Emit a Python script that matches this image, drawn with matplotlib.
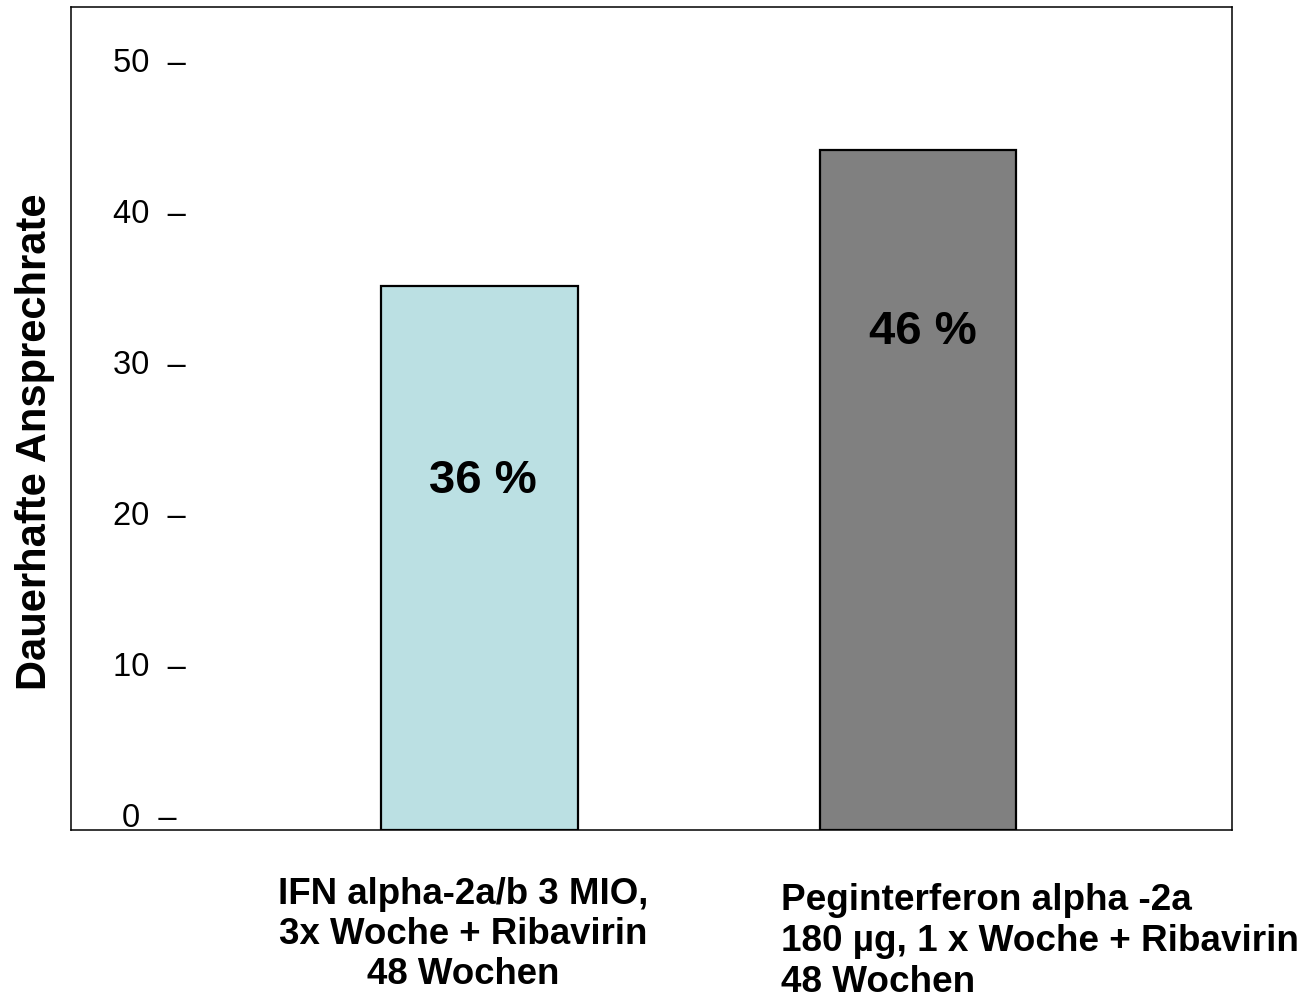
import matplotlib
matplotlib.use("Agg")
import matplotlib.pyplot as plt

plt.rcParams['font.family'] = ['Liberation Sans', 'DejaVu Sans']

# ---- data ----
categories = [
    "IFN alpha-2a/b 3 MIO,\n3x Woche + Ribavirin\n48 Wochen",
    "Peginterferon alpha -2a\n180 µg, 1 x Woche + Ribavirin\n48 Wochen",
]
values = [35, 44]
value_labels = ["36 %", "46 %"]
y_ticks = [0, 10, 20, 30, 40, 50]
y_label = "Dauerhafte Ansprechrate"
colors = ["#BBE0E3", "#808080"]

# ---- layout ----
W, H = 1308, 998
fig = plt.figure(figsize=(W / 100, H / 100), dpi=100)
ax = fig.add_axes([71 / W, 1 - 830 / H, (1232 - 71) / W, (830 - 7) / H])

ylo, yhi = -1.0, 53.5
xpos = [0, 1]
ax.bar(xpos, [v - ylo for v in values], bottom=ylo, width=0.449,
       color=colors, edgecolor="black", linewidth=1.6, zorder=2)
ax.set_xlim(-0.9316, 1.716)
ax.set_ylim(ylo, yhi)

# value labels inside bars
label_pos = [(0.008, 22.1), (1.011, 32.0)]
for (x, y), txt in zip(label_pos, value_labels):
    ax.text(x, y, txt, ha="center", va="center", fontsize=34,
            fontweight="bold", color="black", zorder=3)

# y ticks: text with dash inside the frame
ax.set_yticks(y_ticks)
ax.set_yticklabels([f"{t}  \u2013" for t in y_ticks])
ax.tick_params(axis="y", length=0, pad=-56.5, labelsize=23.5)
for lbl in ax.get_yticklabels():
    lbl.set_ha("center")

ax.set_xticks([])
for s in ax.spines.values():
    s.set_linewidth(1.1)
    s.set_color("black")

# category labels below axes
ax.annotate(categories[0], xy=(xpos[0], 0), xycoords=("data", "axes fraction"),
            xytext=(-11.5, -33.5), textcoords="offset points",
            ha="center", va="top", multialignment="center",
            fontsize=26.4, fontweight="bold", linespacing=1.2)
ax.annotate(categories[1], xy=(xpos[1], 0), xycoords=("data", "axes fraction"),
            xytext=(-99, -38.5), textcoords="offset points",
            ha="left", va="top", multialignment="left",
            fontsize=26.6, fontweight="bold", linespacing=1.21)

fig.text(35 / W, 1 - 442 / H, y_label, rotation=90, ha="center", va="center",
         fontsize=30, fontweight="bold")

fig.savefig("out.png", dpi=100)
